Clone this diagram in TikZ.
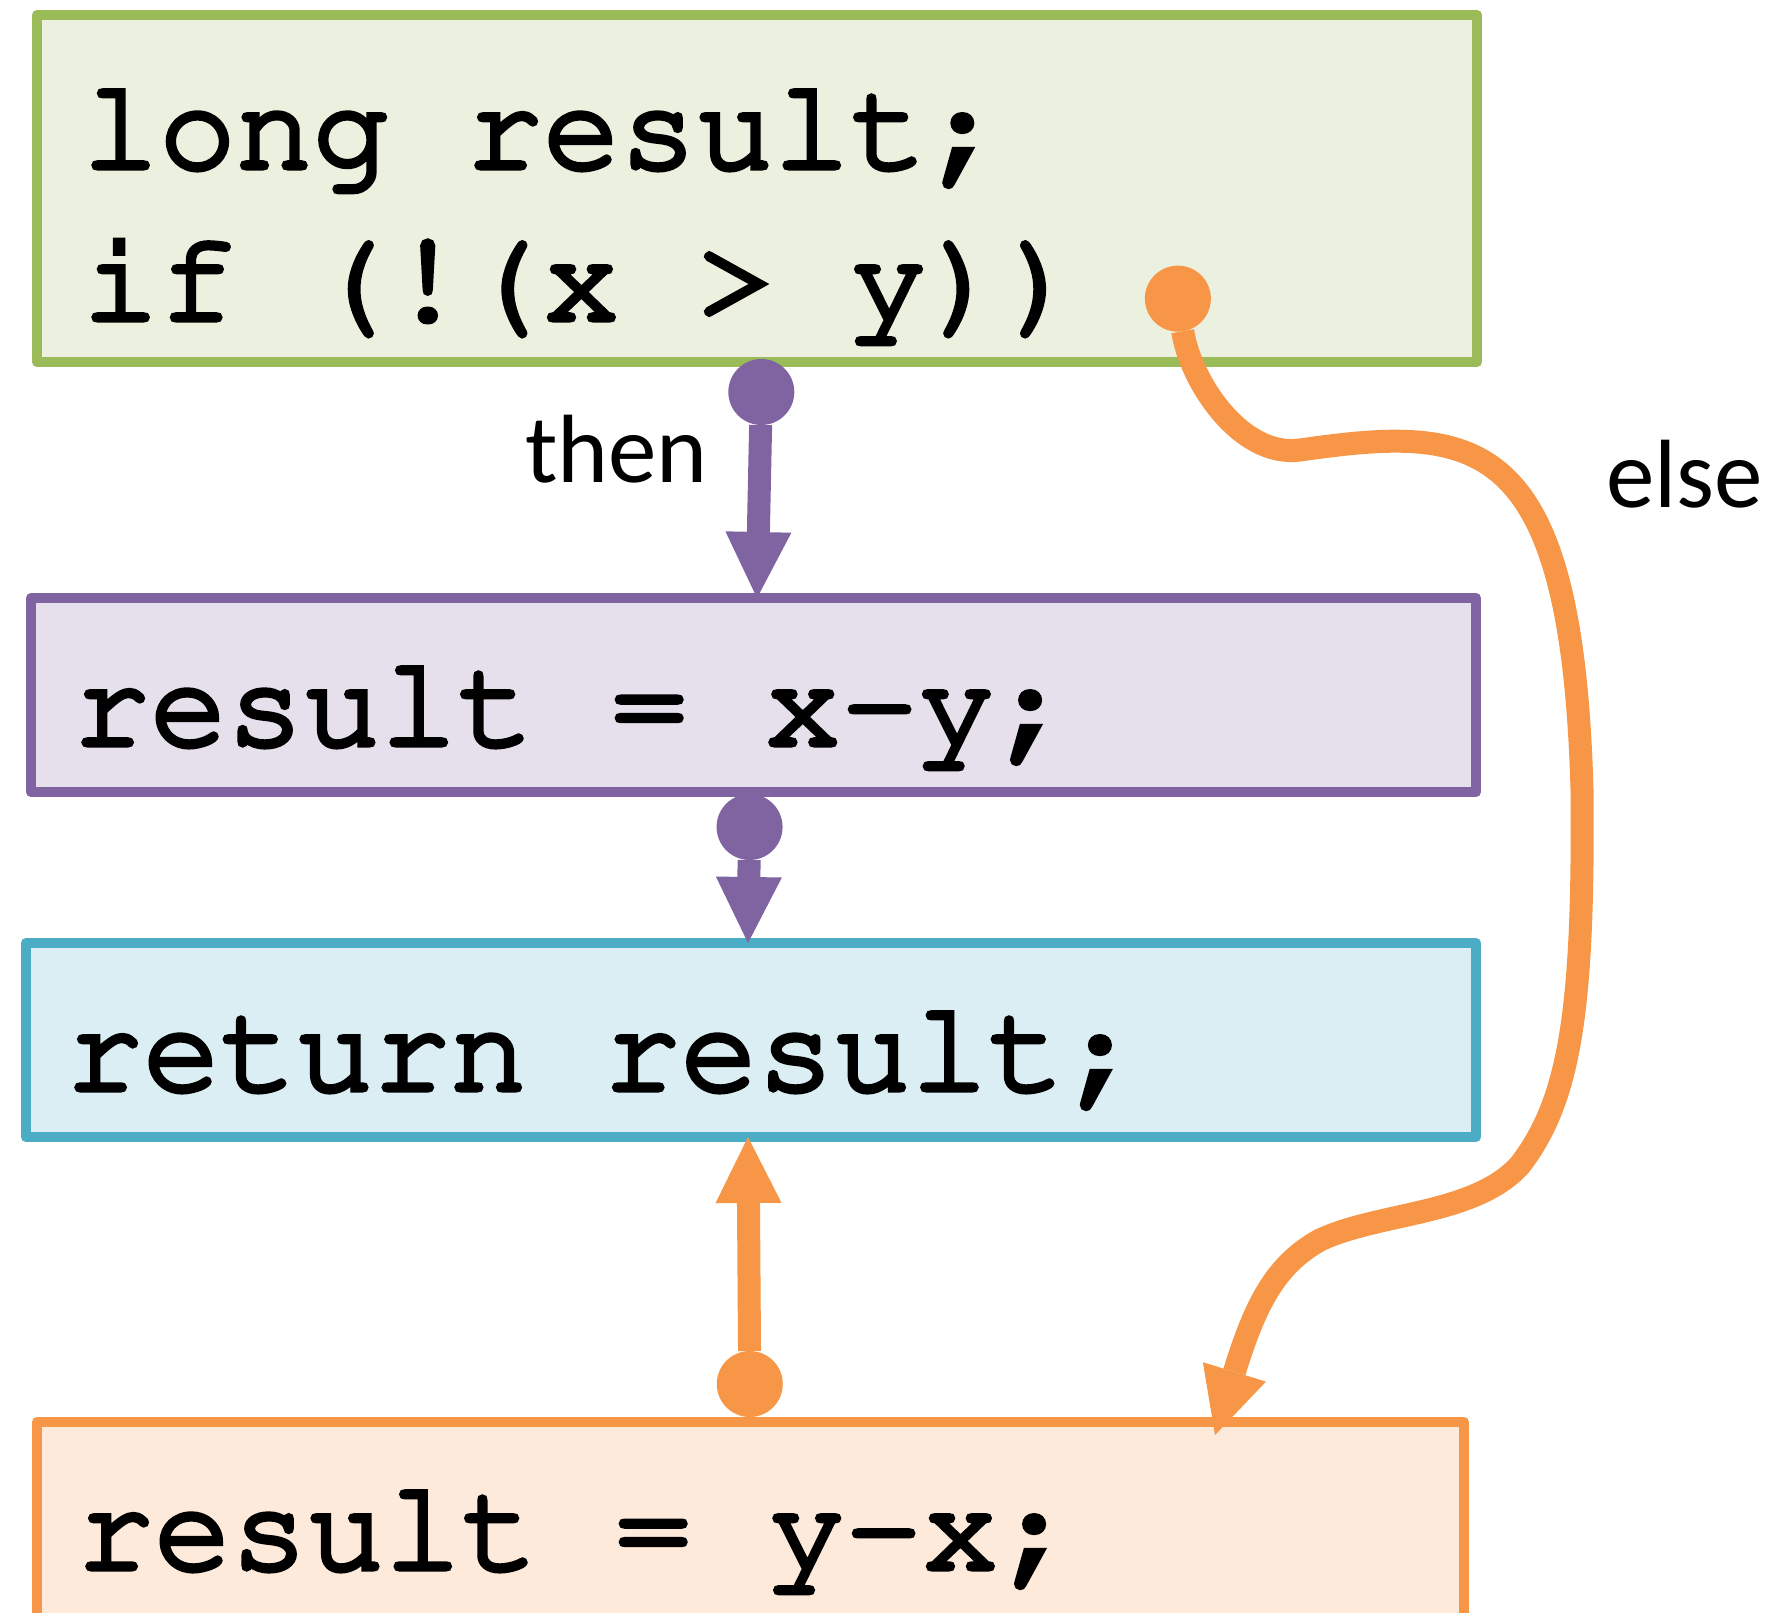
\documentclass[tikz,border=0pt]{standalone}
\usepackage[T1,TU]{fontenc}
\usepackage{fontspec}
\newfontfamily\labelfont{Carlito}
\usetikzlibrary{arrows.meta}
\definecolor{condline}{HTML}{9BBB59}
\definecolor{condfill}{HTML}{EBF1DE}
\definecolor{thenline}{HTML}{8064A2}
\definecolor{thenfill}{HTML}{E5E0EC}
\definecolor{retline}{HTML}{4BACC6}
\definecolor{retfill}{HTML}{DBEEF4}
\definecolor{elseline}{HTML}{F79646}
\definecolor{elsefill}{HTML}{FDEADA}
\newcommand{\codefont}{\fontencoding{T1}\fontfamily{pcr}\fontseries{m}\fontshape{n}\fontsize{128}{152}\selectfont}
\newcommand{\lblfont}{\labelfont\fontsize{97}{116}\selectfont}
% heavier strokes for the code lines
\newcommand{\codeline}[1]{\special{pdf:literal direct 0 G 2 Tr 5 w}#1\special{pdf:literal direct 0 Tr}}
\begin{document}
\begin{tikzpicture}[x=1pt, y=-1pt,
    box/.style={draw, line width=10pt, line join=round, inner sep=0pt, anchor=north west},
    code/.style={anchor=base west, inner sep=0pt, font=\codefont},
    lbl/.style={anchor=base west, inner sep=0pt, font=\lblfont},
    flow/.style={line width=23pt, {Circle[length=66pt,line width=0pt]}-{Triangle[length=66pt,width=66pt,line width=0pt]}}]
    \useasboundingbox (0,0) rectangle (1777,1613);
    % blocks
    \node[box, draw=condline, fill=condfill, minimum width=1440pt, minimum height=347pt] (cond) at (32,10) {};
    \node[box, draw=thenline, fill=thenfill, minimum width=1445pt, minimum height=194pt] (assign1) at (26,593) {};
    \node[box, draw=retline, fill=retfill, minimum width=1450pt, minimum height=194pt] (ret) at (21,938) {};
    \node[box, draw=elseline, fill=elsefill, minimum width=1427pt, minimum height=203pt] (assign2) at (32,1417) {};
    % code
    \node[code] (condA) at (82,168) {\codeline{long result;}};
    \node[code] (condB) at (82,320) {\codeline{if (!(x > y))}};
    \node[code] (assign1code) at (73,745) {\codeline{result = x-y;}};
    \node[code] (retcode) at (66,1090) {\codeline{return result;}};
    \node[code] (assign2code) at (77,1569) {\codeline{result = y-x;}};
    \node[lbl] (thenlbl) at (525,482) {then};
    \node[lbl] (elselbl) at (1606,507) {else};
    % edges
    \draw[flow, thenline] ([xshift=5pt,yshift=8pt]cond.south) -- ([xshift=3.5pt,yshift=-5pt]assign1.north);
    \draw[flow, thenline] ([xshift=-3.5pt,yshift=3pt]assign1.south) -- ([xshift=-3pt,yshift=-5pt]ret.north);
    \draw[flow, elseline] ([xshift=-0.5pt]assign2.north) -- ([xshift=-3pt,yshift=5pt]ret.south);
    \draw[flow, elseline] ([xshift=-309pt,yshift=101pt]cond.south east)
        .. controls (1190,380) and (1240,458) .. (1300,450)
        .. controls (1475,425) and (1572,430) .. (1582,790)
        .. controls (1584,1010) and (1570,1100) .. (1520,1165)
        .. controls (1475,1215) and (1380,1212) .. (1320,1240)
        .. controls (1275,1265) and (1255,1305) .. ([xshift=464.5pt,yshift=-18pt]assign2.north);
\end{tikzpicture}
\end{document}
